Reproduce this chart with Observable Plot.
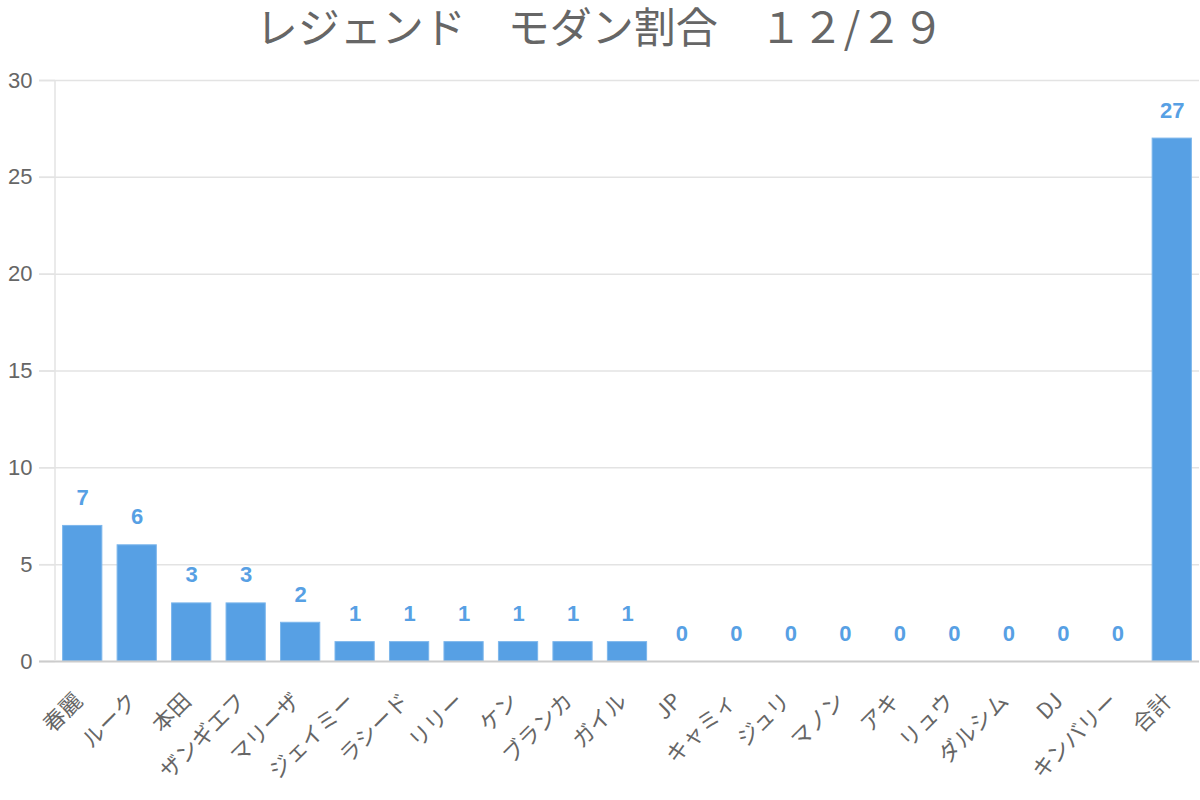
<!DOCTYPE html>
<html>
<head>
<meta charset="utf-8">
<script src="https://cdn.jsdelivr.net/npm/d3@7"></script>
<script src="https://cdn.jsdelivr.net/npm/@observablehq/plot@0.6"></script>
<style>
  html, body { margin: 0; padding: 0; background: #fff; }
  #title { height: 48px; line-height: 50px; text-align: center; font-family: "Noto Sans CJK JP", sans-serif; font-size: 42px; color: #666; white-space: pre; overflow: visible; }
  #chart svg { display: block; }
</style>
</head>
<body>
<div id="title">レジェンド　モダン割合　１２/２９</div>
<div id="chart"></div>
<script>
const characters = ["春麗","ルーク","本田","ザンギエフ","マリーザ","ジェイミー","ラシード","リリー","ケン","ブランカ","ガイル","JP","キャミィ","ジュリ","マノン","アキ","リュウ","ダルシム","DJ","キンバリー","合計"];
const counts = [7,6,3,3,2,1,1,1,1,1,1,0,0,0,0,0,0,0,0,0,27];
const yTicks = [0,5,10,15,20,25,30];

const data = characters.map((name, i) => ({name, count: counts[i]}));
const blue = "#57a0e4";

const plot = Plot.plot({
  width: 1200,
  height: 752,
  marginLeft: 55,
  marginRight: 1,
  marginTop: 32,
  marginBottom: 139,
  style: {fontFamily: "'Noto Sans CJK JP', sans-serif", background: "#fff"},
  x: {domain: characters, paddingInner: 0.28, paddingOuter: 0.14, round: false, label: null},
  y: {domain: [0, 30], label: null},
  marks: [
    Plot.ruleY(yTicks.filter(d => d > 0), {stroke: "#e3e3e3", strokeWidth: 1.5, insetLeft: -16}),
    Plot.axisY({ticks: yTicks, tickSize: 16, stroke: "#e3e3e3", strokeWidth: 1.5, strokeOpacity: 1, fill: "#666", fontSize: 22, tickPadding: 7, fontFamily: "'Liberation Sans', Arial, sans-serif", label: null}),
    Plot.barY(data, {x: "name", y: "count", fill: blue, stroke: "#7cb6ec", strokeWidth: 1}),
    Plot.ruleY([0], {stroke: "#cccccc", strokeWidth: 2, insetLeft: -16}),
    Plot.text(data, {x: "name", y: "count", text: d => String(d.count), dy: -21, lineAnchor: "bottom", fill: blue, fontSize: 22, fontWeight: "bold", fontFamily: "'Liberation Sans', Arial, sans-serif"}),
    Plot.axisX({tickSize: 0, tickRotate: -45, tickPadding: 36, dx: -4, fontSize: 22, fill: "#666", label: null})
  ]
});

// left axis line along the plot's left edge
const xr = plot.scale("x").range, yr = plot.scale("y").range;
d3.select(plot).append("line")
  .attr("x1", xr[0]).attr("x2", xr[0])
  .attr("y1", yr[0]).attr("y2", yr[1])
  .attr("stroke", "#e3e3e3").attr("stroke-width", 1.5);

document.getElementById("chart").appendChild(plot);
</script>
</body>
</html>
